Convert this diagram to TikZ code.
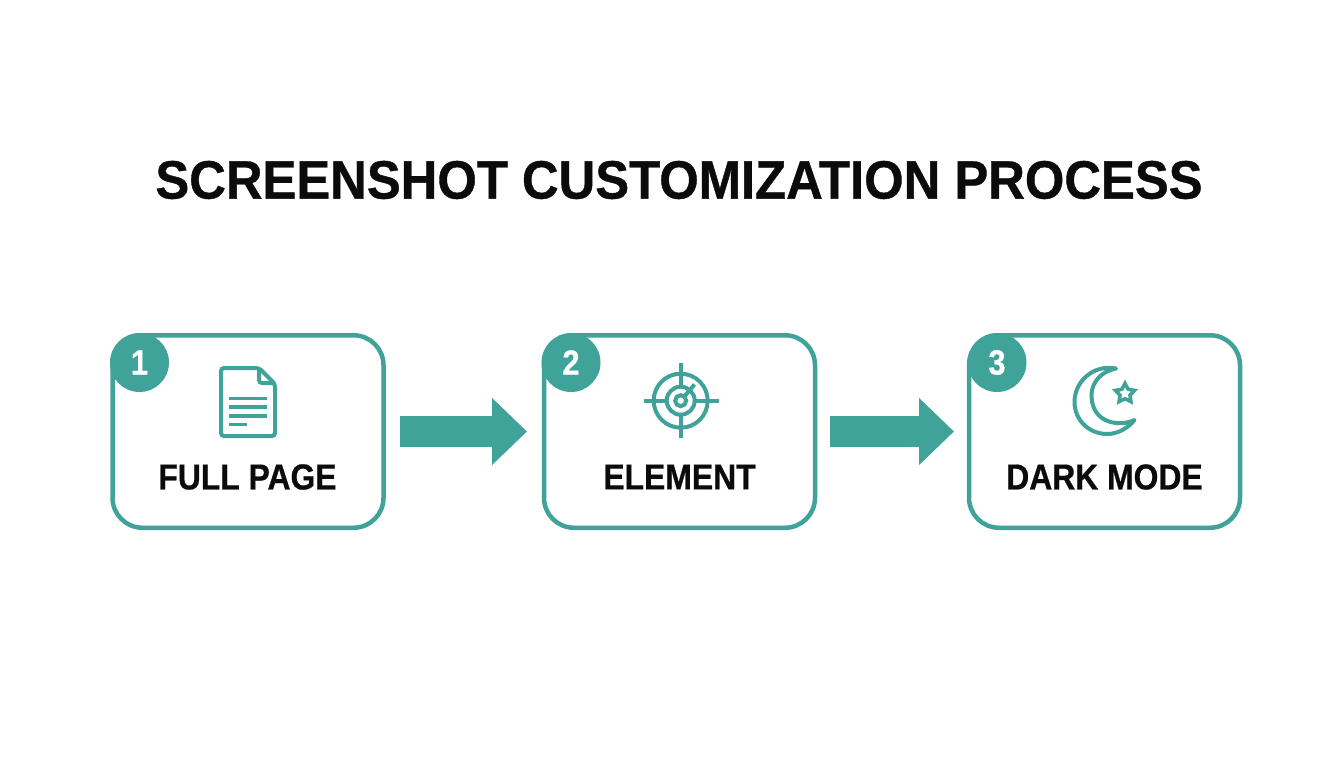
\documentclass[tikz,border=0pt]{standalone}
\usepackage{fontspec}
\setmainfont{Liberation Sans}
\newfontfamily\titlefont{Liberation Sans Bold}[FakeStretch=0.94,FakeBold=0.7]
\newfontfamily\labelfont{Liberation Sans Bold}[FakeStretch=0.885,FakeBold=0.6]
\usepackage{tikz}
\usetikzlibrary{arrows.meta}
\usetikzlibrary{shapes.geometric}
\definecolor{teal_line}{HTML}{3FA39A}
\definecolor{label_ink}{HTML}{0B0B0B}
\tikzstyle{step_box}=[draw=teal_line, line width=4.5pt, fill=white, rounded corners=30pt, outer sep=0pt, minimum width=271pt, minimum height=192.5pt]
\tikzstyle{step_badge}=[circle, fill=teal_line, text=white, inner sep=0pt, minimum size=59pt, font=\fontsize{35}{35}\selectfont\labelfont]
\tikzstyle{step_label}=[text=label_ink, inner sep=0pt, font=\fontsize{36}{36}\selectfont\labelfont]
\tikzstyle{step_arrow}=[draw=teal_line, line width=31pt, -{Triangle[length=35pt, width=65pt, fill=teal_line]}]
\tikzstyle{icon_line}=[draw=teal_line, line width=4pt]
\begin{document}
\begin{tikzpicture}[x=1pt, y=-1pt]
\useasboundingbox[fill=white] (0,0) rectangle (1344,768);
\node[text=label_ink, inner sep=0pt, font=\fontsize{54}{54}\selectfont\titlefont] (title) at (679,180) {SCREENSHOT CUSTOMIZATION PROCESS};
\node[step_box] (full) at (248,431.5) {};
\node[step_box] (element) at (679.5,431.5) {};
\node[step_box] (dark) at (1104.5,431.5) {};
\node[step_badge] (badge1) at (139.5,362.5) {\raisebox{-2.5pt}{1}};
\node[step_badge] (badge2) at (571,362.5) {\raisebox{-2.5pt}{2}};
\node[step_badge] (badge3) at (997,362.5) {\raisebox{-2.5pt}{3}};
\node[step_label] (full_label) at (247.5,477) {FULL PAGE};
\node[step_label] (element_label) at (679.5,477) {ELEMENT};
\node[step_label] (dark_label) at (1104.5,477) {DARK MODE};
\draw[step_arrow, shorten <=16pt, shorten >=17pt](full) -- (element);
\draw[step_arrow, shorten <=15pt, shorten >=15pt](element) -- (dark);
% page icon
\draw[icon_line, rounded corners=3pt] (221,368) -- (259,368) -- (275,384) -- (275,436) -- (221,436) -- cycle;
\draw[icon_line, rounded corners=3pt] (259,368) -- (259,383) -- (275,383);
\draw[icon_line, line width=3.4pt] (229,398.5) -- (267,398.5) (229,407) -- (267,407) (229,416) -- (267,416) (229,424.5) -- (247,424.5);
% target icon
\draw[icon_line] (680.7,400.7) circle (27);
\draw[icon_line] (680.7,400.7) circle (14);
\draw[icon_line] (680.7,400.7) circle (5.5);
\draw[icon_line] (644,400.7) -- (666,400.7) (695,400.7) -- (719,400.7) (680.7,363) -- (680.7,386) (680.7,415) -- (680.7,438);
\draw[icon_line] (683,398) -- (694.5,384.5);
% moon icon
\draw[icon_line, line join=round, line cap=round] (1116,368.5) .. controls (1094,364) and (1074.5,381) .. (1074.5,402) .. controls (1074.5,421) and (1090,434) .. (1107,434) .. controls (1118,434) and (1128,428) .. (1134.5,420) .. controls (1120,427) and (1091.5,424) .. (1091.5,395) .. controls (1091.5,382) and (1102,371) .. (1116,368.5) -- cycle;
\node[star, star points=5, star point ratio=1.9, draw=teal_line, line width=3.6pt, inner sep=0pt, minimum size=20pt] (moon_star) at (1125,393.5) {};
\end{tikzpicture}
\end{document}
